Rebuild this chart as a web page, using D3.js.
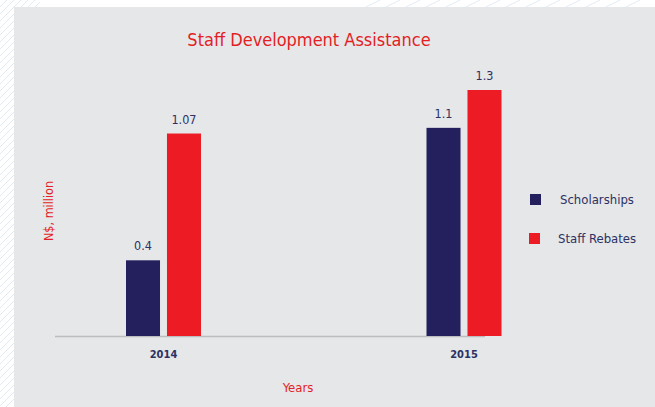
<!DOCTYPE html>
<html><head><meta charset="utf-8">
<script src="https://cdn.jsdelivr.net/npm/d3@7"></script>
<style>
html,body{margin:0;padding:0;background:#fff;}
svg{display:block;}
text{font-family:"DejaVu Sans Condensed","Roboto",sans-serif;}
</style></head>
<body>
<svg id="c" width="655" height="407"></svg>
<script>
const years = ["2014", "2015"];
const seriesNames = ["Scholarships", "Staff Rebates"];
const scholarships = [0.4, 1.1];
const staffRebates = [1.07, 1.3];
const valueLabels = [["0.4", "1.1"], ["1.07", "1.3"]];
const colors = ["#24205e", "#ed1c24"];

const svg = d3.select("#c");
// decorative faint lines on the white margin
const deco = svg.append("g").attr("stroke", "#dbe6f1").attr("stroke-width", 0.8).attr("fill", "none");
for (let i = -20; i < 60; i++) {
  deco.append("line").attr("x1", 0).attr("y1", i * 7).attr("x2", 40).attr("y2", i * 7 - 40);
}
for (let i = 0; i < 14; i++) {
  deco.append("line").attr("x1", 380 + i * 20).attr("y1", 0).attr("x2", 360 + i * 20).attr("y2", 10);
}
// panel
svg.append("rect").attr("x", 14).attr("y", 7).attr("width", 641).attr("height", 400).attr("fill", "#e6e7e9");

const baseY = 336;
const y = d3.scaleLinear().domain([0, 1.3]).range([baseY, 90]);
const x = d3.scalePoint().domain(years).range([163.5, 464]);
const xs = d3.scaleBand().domain(seriesNames).range([-37.5, 37.5]).paddingInner(0.17);

const data = [scholarships, staffRebates];

// axis line
svg.append("line").attr("x1", 55).attr("x2", 485).attr("y1", baseY + 0.5).attr("y2", baseY + 0.5)
  .attr("stroke", "#bcbdc0").attr("stroke-width", 1.5);

seriesNames.forEach((s, si) => {
  const g = svg.append("g");
  g.selectAll("rect").data(years).join("rect")
    .attr("x", d => x(d) + xs(s))
    .attr("width", xs.bandwidth())
    .attr("y", (d, i) => y(data[si][i]))
    .attr("height", (d, i) => baseY - y(data[si][i]))
    .attr("fill", colors[si]);
  g.selectAll("text").data(years).join("text")
    .attr("x", d => x(d) + xs(s) + xs.bandwidth() / 2)
    .attr("y", (d, i) => y(data[si][i]) - 10)
    .attr("text-anchor", "middle")
    .attr("font-size", 12.5).attr("fill", "#2c3164")
    .text((d, i) => valueLabels[si][i]);
});

// year labels
svg.selectAll("text.yr").data(years).join("text").attr("class", "yr")
  .attr("x", d => x(d)).attr("y", 358).attr("text-anchor", "middle")
  .attr("font-size", 11).attr("font-weight", "bold").attr("fill", "#2c3164").text(d => d);

// title
svg.append("text").attr("x", 309).attr("y", 46).attr("text-anchor", "middle")
  .attr("font-size", 18).attr("fill", "#e31e24").text("Staff Development Assistance");

// axis titles
svg.append("text").attr("x", 298).attr("y", 392).attr("text-anchor", "middle")
  .attr("font-size", 13).attr("fill", "#e31e24").text("Years");
svg.append("text").attr("transform", "translate(53,211) rotate(-90)").attr("text-anchor", "middle")
  .attr("font-size", 12.5).attr("fill", "#e31e24").text("N$, million");

// legend
const leg = svg.append("g");
seriesNames.forEach((s, i) => {
  leg.append("rect").attr("x", 530 - i).attr("y", 194 + i * 39).attr("width", 11).attr("height", 11).attr("fill", colors[i]);
  leg.append("text").attr("x", 560 - i * 2).attr("y", 204 + i * 39).attr("font-size", 13)
    .attr("fill", "#2c3164").text(s);
});
</script>
</body></html>
